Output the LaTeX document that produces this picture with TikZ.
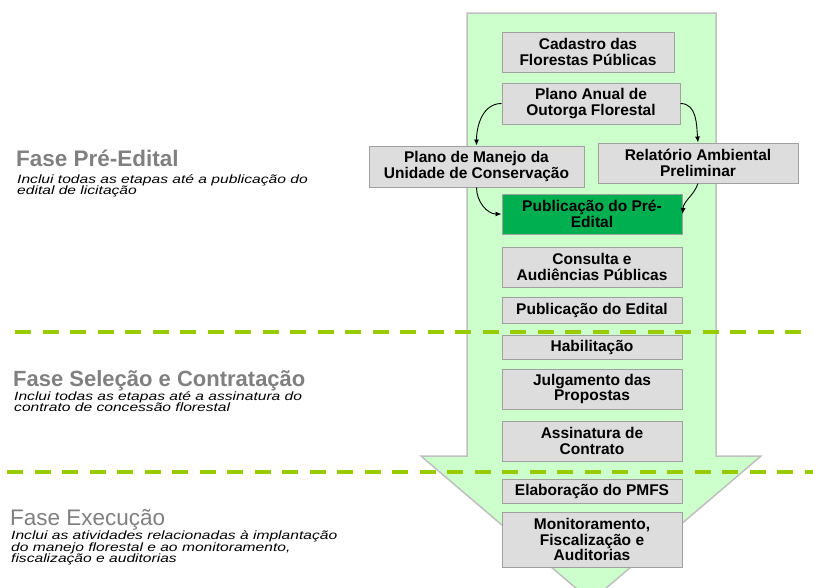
\documentclass[tikz,border=0pt]{standalone}
\usepackage{fontspec}
\setmainfont{Liberation Sans}
\newfontfamily\subfont[FakeStretch=1.3]{Liberation Sans}
\usetikzlibrary{arrows.meta}
\definecolor{arrowfill}{HTML}{CCFFCC}
\definecolor{arrowdraw}{HTML}{BFBFBF}
\definecolor{boxfill}{HTML}{DDDDDD}
\definecolor{boxdraw}{HTML}{A0A0A0}
\definecolor{pubgreen}{HTML}{00B050}
\definecolor{dashgreen}{HTML}{99CC00}
\definecolor{titlegray}{HTML}{808080}
\tikzset{
  stepbox/.style={draw=boxdraw, fill=boxfill, line width=1pt, inner sep=0pt,
    align=center, font=\fontsize{15.5}{15.5}\selectfont\bfseries},
  greenbox/.style={stepbox, fill=pubgreen},
  conn/.style={draw=black, line width=0.9pt, -{Latex[length=6pt,width=5pt]}},
  phaseline/.style={draw=dashgreen, line width=4pt, dash pattern=on 16pt off 11.5pt},
  titletext/.style={anchor=base west, inner sep=0pt, text=titlegray,
    font=\fontsize{22.5}{22.5}\selectfont},
  subtext/.style={anchor=base west, inner sep=0pt, text=black,
    font=\subfont\itshape\fontsize{12}{12}\selectfont},
}
\begin{document}
\begin{tikzpicture}[x=1pt, y=-1pt]
\useasboundingbox (0,0) rectangle (813,587);
\begin{scope}
\clip (0,0) rectangle (813,587);
% big arrow
\draw[fill=arrowfill, draw=arrowdraw, line width=1.5pt]
  (467,13) -- (716,13) -- (716,456) -- (761,456) -- (591,601)
  -- (421,456) -- (467,456) -- cycle;
\end{scope}
% phase separators
\coordinate (l1a) at (15,331.5);
\coordinate (l1b) at (813,331.5);
\coordinate (l2a) at (7,471.5);
\coordinate (l2b) at (813,471.5);
\draw[phaseline] (l1a) -- (l1b);
\draw[phaseline] (l2a) -- (l2b);
% boxes
\node[stepbox, minimum width=172pt, minimum height=40pt] (cad) at (588,52) {Cadastro das\\Florestas Públicas};
\node[stepbox, minimum width=178pt, minimum height=41pt] (pa) at (591,103.5) {Plano Anual de\\Outorga Florestal};
\node[stepbox, minimum width=215pt, minimum height=41pt] (pm) at (476.5,166.5) {Plano de Manejo da\\Unidade de Conservação};
\node[stepbox, minimum width=200pt, minimum height=40pt] (rel) at (698,163) {Relatório Ambiental\\Preliminar};
\node[greenbox, minimum width=180pt, minimum height=40pt] (pub) at (592,214) {Publicação do Pré-\\Edital};
\node[stepbox, minimum width=180pt, minimum height=40pt] (con) at (592,267) {Consulta e\\Audiências Públicas};
\node[stepbox, minimum width=180pt, minimum height=26pt] (ped) at (592,310) {Publicação do Edital};
\node[stepbox, minimum width=180pt, minimum height=24pt] (hab) at (592,347) {Habilitação};
\node[stepbox, minimum width=180pt, minimum height=40pt] (jul) at (592,389) {Julgamento das\\Propostas};
\node[stepbox, minimum width=180pt, minimum height=40pt] (ass) at (592,441) {Assinatura de\\Contrato};
\node[stepbox, minimum width=180pt, minimum height=24pt] (ela) at (592,491) {Elaboração do PMFS};
\node[stepbox, minimum width=180pt, minimum height=55pt] (mon) at (592,539.5) {Monitoramento,\\Fiscalização e\\Auditorias};
% connectors
\draw[conn] (pa.west) to[out=180, in=90] (pm.north);
\draw[conn] (pa.east) to[out=0, in=95] (rel.north);
\draw[conn] (pm.south) to[out=270, in=180] (pub.west);
\draw[conn] (rel.south) to[out=250, in=85] (pub.east);
% phase labels
\node[titletext, font=\fontsize{22.5}{22.5}\selectfont\bfseries] (t1) at (16,166.5) {Fase Pré-Edital};
\node[subtext] (s1a) at (17,183) {Inclui todas as etapas até a publicação do};
\node[subtext] (s1b) at (17,194.5) {edital de licitação};
\node[titletext, font=\fontsize{22}{22}\selectfont\bfseries] (t2) at (13,386) {Fase Seleção e Contratação};
\node[subtext] (s2a) at (14,400) {Inclui todas as etapas até a assinatura do};
\node[subtext] (s2b) at (14,411.5) {contrato de concessão florestal};
\node[titletext] (t3) at (10,525) {Fase Execução};
\node[subtext] (s3a) at (11,539.5) {Inclui as atividades relacionadas à implantação};
\node[subtext] (s3b) at (11,551) {do manejo florestal e ao monitoramento,};
\node[subtext] (s3c) at (11,562.5) {fiscalização e auditorias};
\end{tikzpicture}
\end{document}
